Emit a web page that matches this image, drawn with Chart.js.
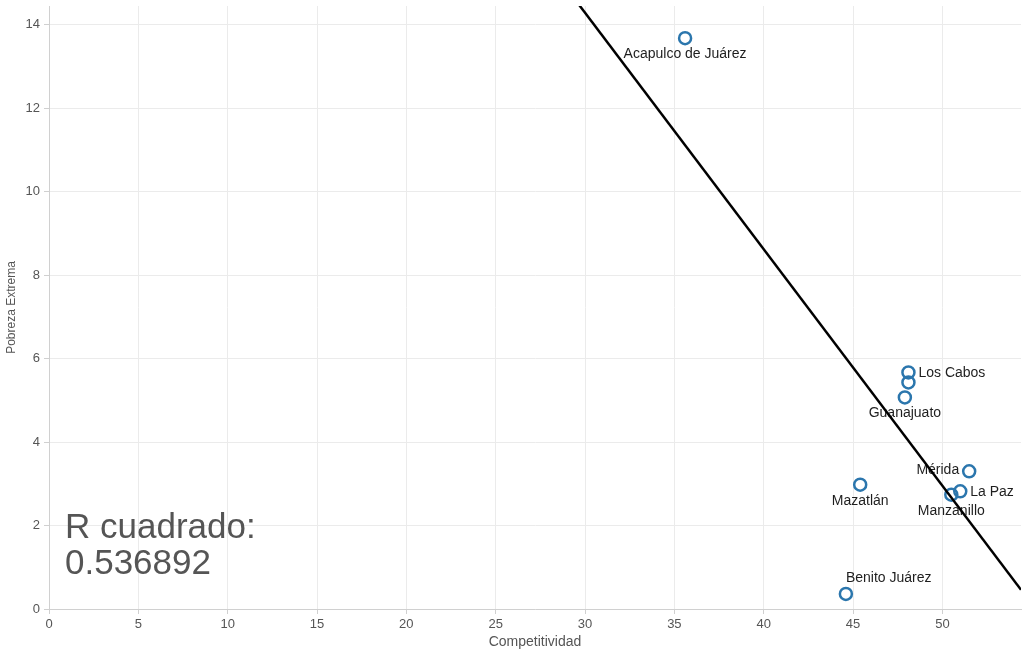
<!DOCTYPE html>
<html>
<head>
<meta charset="utf-8">
<script src="https://cdn.jsdelivr.net/npm/chart.js@4/dist/chart.umd.min.js"></script>
<style>
  html, body { margin: 0; padding: 0; background: #fff; overflow: hidden; }
  #wrap { width: 1023px; height: 654px; }
  canvas { display: block; }
</style>
</head>
<body>
<div id="wrap"><canvas id="chart" width="1023" height="654"></canvas></div>
<script>
// ----------------------------
// DATA
// ----------------------------
const cities = ["Acapulco de Juárez", "Los Cabos", "", "Guanajuato", "Mérida", "La Paz", "Manzanillo", "Mazatlán", "Benito Juárez"];
const competitividad = [35.6, 48.1, 48.1, 47.9, 51.5, 51.0, 50.5, 45.4, 44.6];
const pobrezaExtrema = [13.68, 5.67, 5.43, 5.07, 3.30, 2.82, 2.74, 2.98, 0.36];
const rSquaredText = ["R cuadrado:", "0.536892"];

// where each city label sits relative to its point
const labelPos = ["below", "right", null, "below", "left", "right", "below", "below", "aboveRight"];

const X_MAX = 54.4;
const Y_MAX = 14.45;

// ----------------------------
// LINEAR TREND (least squares)
// ----------------------------
const n = competitividad.length;
const mx = competitividad.reduce((a, b) => a + b, 0) / n;
const my = pobrezaExtrema.reduce((a, b) => a + b, 0) / n;
let sxy = 0, sxx = 0;
for (let i = 0; i < n; i++) {
    sxy += (competitividad[i] - mx) * (pobrezaExtrema[i] - my);
    sxx += (competitividad[i] - mx) ** 2;
}
const slope = sxy / sxx;
const intercept = my - slope * mx;
const trend = [0, X_MAX].map(x => ({ x: x, y: intercept + slope * x }));

const points = competitividad.map((x, i) => ({ x: x, y: pobrezaExtrema[i] }));

// ----------------------------
// LABELS + R SQUARED
// ----------------------------
const cityLabels = {
    id: "cityLabels",
    afterDatasetDraw(chart, args) {
        if (args.index !== 0) return;
        const ctx = chart.ctx;
        const meta = chart.getDatasetMeta(0);
        ctx.save();
        ctx.font = "14px 'Liberation Sans', Arial, sans-serif";
        ctx.fillStyle = "#1e1e1e";
        ctx.textBaseline = "middle";
        meta.data.forEach((pt, i) => {
            const pos = labelPos[i];
            if (!pos || !cities[i]) return;
            let x = pt.x, y = pt.y;
            if (pos === "below") { ctx.textAlign = "center"; y += 16; }
            else if (pos === "right") { ctx.textAlign = "left"; x += 10; y += 1; }
            else if (pos === "left") { ctx.textAlign = "right"; x -= 10; y -= 1; }
            else if (pos === "aboveRight") { ctx.textAlign = "left"; y -= 16; }
            ctx.fillText(cities[i], x, y);
        });
        ctx.restore();
    }
};

const rSquared = {
    id: "rSquared",
    afterDraw(chart) {
        const ctx = chart.ctx;
        const area = chart.chartArea;
        ctx.save();
        ctx.font = "35px 'Liberation Sans', Arial, sans-serif";
        ctx.fillStyle = "#555";
        ctx.textAlign = "left";
        ctx.textBaseline = "alphabetic";
        ctx.fillText(rSquaredText[0], area.left + 16, area.top + 532);
        ctx.fillText(rSquaredText[1], area.left + 16, area.top + 568);
        ctx.restore();
    }
};

// ----------------------------
// CHART
// ----------------------------
const tickFont = { family: "'Liberation Sans', Arial, sans-serif", size: 13 };

new Chart(document.getElementById("chart").getContext("2d"), {
    data: {
        datasets: [
            {
                type: "scatter",
                data: points,
                order: 2,
                pointRadius: 6,
                pointHoverRadius: 6,
                pointBorderWidth: 2.5,
                pointBorderColor: "#2b76ad",
                pointBackgroundColor: "rgba(255,255,255,0)"
            },
            {
                type: "line",
                data: trend,
                order: 1,
                borderColor: "#000",
                borderWidth: 2.5,
                pointRadius: 0,
                fill: false
            }
        ]
    },
    options: {
        responsive: false,
        animation: false,
        events: [],
        layout: { autoPadding: false, padding: { top: 6, right: 2, left: 0, bottom: 0 } },
        plugins: {
            legend: { display: false },
            tooltip: { enabled: false }
        },
        scales: {
            x: {
                type: "linear",
                min: 0,
                max: X_MAX,
                afterBuildTicks: s => { s.ticks = s.ticks.filter(t => t.value % 5 === 0); },
                afterFit: s => { s.height = 45; s.paddingLeft = 0; s.paddingRight = 0; },
                ticks: { stepSize: 5, color: "#555", font: tickFont, padding: 3, maxRotation: 0 },
                grid: { color: "#ebebeb", tickLength: 5, tickColor: "#d0d0d0" },
                border: { color: "#d0d0d0", width: 1 },
                title: { display: true, text: "Competitividad", color: "#555", font: { family: tickFont.family, size: 14 }, padding: { top: 0, bottom: 3 } }
            },
            y: {
                type: "linear",
                min: 0,
                max: Y_MAX,
                afterBuildTicks: s => { s.ticks = s.ticks.filter(t => t.value % 2 === 0); },
                afterFit: s => { s.width = 49; s.paddingTop = 0; s.paddingBottom = 0; },
                ticks: { stepSize: 2, color: "#555", font: tickFont, padding: 4 },
                grid: { color: "#ebebeb", tickLength: 5, tickColor: "#d0d0d0" },
                border: { color: "#d0d0d0", width: 1 },
                title: { display: true, text: "Pobreza Extrema", color: "#555", font: { family: tickFont.family, size: 12 }, padding: { top: 4, bottom: 0 } }
            }
        }
    },
    plugins: [cityLabels, rSquared]
});
</script>
</body>
</html>
